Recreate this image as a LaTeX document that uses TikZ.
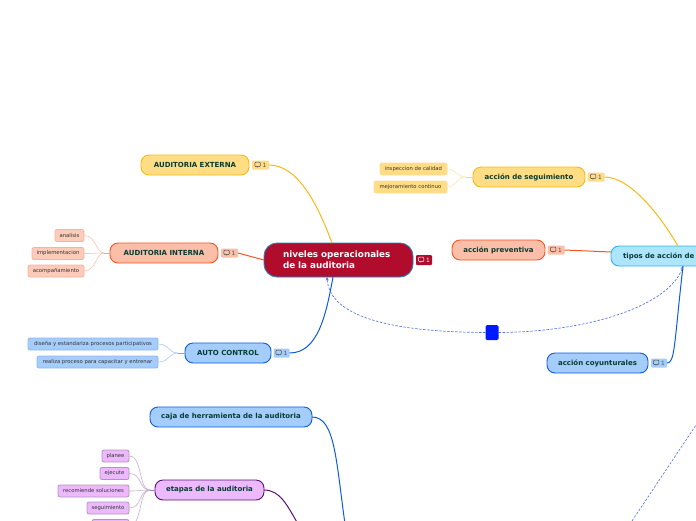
\documentclass[tikz,border=0pt]{standalone}
\usepackage{fontspec}
\setmainfont{DejaVu Sans}
\usepackage{xcolor}
\usetikzlibrary{
  positioning,
  arrows.meta
}
\definecolor{rootred}{RGB}{178,12,45}
\definecolor{rootedge}{RGB}{44,127,192}
\definecolor{yelfill}{RGB}{255,221,133}
\definecolor{yeledge}{RGB}{253,184,19}
\definecolor{orafill}{RGB}{251,190,168}
\definecolor{oraedge}{RGB}{247,84,32}
\definecolor{blufill}{RGB}{165,205,252}
\definecolor{bluedge}{RGB}{12,92,220}
\definecolor{cyafill}{RGB}{173,229,252}
\definecolor{cyaedge}{RGB}{45,180,240}
\definecolor{purfill}{RGB}{236,186,252}
\definecolor{puredge}{RGB}{92,16,112}
\definecolor{topictext}{RGB}{6,60,50}
\definecolor{reldash}{RGB}{80,110,240}
\newcommand{\cmt}[1]{\tikz[baseline=0pt,x=1pt,y=1pt,line width=0.5pt]{\draw[#1] (0,0.6) rectangle (5.6,5);\draw[#1] (1.8,0.6) -- (1.8,-0.6) -- (3.2,0.6);}\hspace{2pt}1}

\begin{document}
\begin{tikzpicture}[
  x=1pt, y=-1pt,
  >={Stealth[length=3.5pt,width=3pt]},
  topic/.style={draw=#1edge, fill=#1fill, rounded corners=8pt, line width=0.9pt,
                minimum height=20pt, inner sep=0pt, outer sep=0pt,
                font=\fontsize{7}{8}\selectfont\bfseries, text=topictext},
  child/.style={draw=#1edge!45, fill=#1fill, rounded corners=2pt, line width=0.8pt,
                minimum height=12pt, inner sep=0pt, outer sep=0pt,
                font=\fontsize{5.3}{6}\selectfont, text=black!80, anchor=east},
  badge/.style={fill=#1, rounded corners=1pt, minimum width=17pt, minimum height=9pt,
                inner sep=0pt, outer sep=0pt,
                font=\fontsize{5.8}{6}\selectfont, text=black!70},
  link/.style={line width=1pt, draw=#1edge},
  twig/.style={line width=0.6pt, draw=#1edge!35},
  stub/.style={line width=1pt, draw=#1edge!55},
  rel/.style={draw=reldash, line width=0.65pt, dash pattern=on 2.4pt off 1.6pt},
]
\useasboundingbox (0,0) rectangle (696,520);

% centre
\node[draw=rootedge, fill=rootred, rounded corners=13pt, line width=0.9pt, text=white,
      minimum width=149pt, minimum height=34pt, inner sep=0pt, outer sep=0pt,
      text width=111pt, align=left,
      font=\fontsize{8.8}{11}\selectfont\bfseries] (main) at (338.5,260) {niveles operacionales\\de la auditoria};
\node[badge=rootred, minimum width=16pt, minimum height=10pt, text=white, right=3pt of main] (mainbadge) {\cmt{white}};

% left branches
\node[topic=yel, minimum width=108pt] (ext) at (195,165) {AUDITORIA EXTERNA};
\node[badge=yelfill, right=3pt of ext] (extbadge) {\cmt{black!70}};
\node[topic=ora, minimum width=108pt] (int) at (164,253) {AUDITORIA INTERNA};
\node[badge=orafill, right=3pt of int] (intbadge) {\cmt{black!70}};
\node[topic=blu, minimum width=86pt] (auto) at (228,353) {AUTO CONTROL};
\node[badge=blufill, minimum width=16pt, right=2.5pt of auto] (autobadge) {\cmt{black!70}};
\node[topic=blu, minimum width=162pt] (caja) at (231,417) {caja de herramienta de la auditoria};
\node[topic=pur, minimum width=109pt] (etapas) at (209.5,490) {etapas de la auditoria};

\node[child=ora, fill=orafill!80, minimum width=29pt] (ana) at (84,235.5) {analisis};
\node[child=ora, fill=orafill!80, minimum width=52pt] (imp) at (84,253.5) {implementacion};
\node[child=ora, fill=orafill!80, minimum width=56pt] (aco) at (84,271) {acompañamiento};
\node[child=blu, minimum width=130pt] (dis) at (158,344) {diseña y estandariza procesos participativos};
\node[child=blu, minimum width=121pt] (rea) at (158,362) {realiza proceso para capacitar y entrenar};
\node[child=pur, minimum width=27pt] (pla) at (129,456) {planee};
\node[child=pur, minimum width=29pt] (eje) at (129,473.5) {ejecute};
\node[child=pur, minimum width=71pt] (rec) at (129,491) {recomiende soluciones};
\node[child=pur, minimum width=42pt] (seg) at (129,508) {seguimiento};
\node[child=pur, minimum width=37pt] (ult) at (129,525.5) {};

% right branches
\node[topic=yel, minimum width=112pt] (acseg) at (529,177) {acción de seguimiento};
\node[badge=yelfill, right=2.5pt of acseg] (acsegbadge) {\cmt{black!70}};
\node[topic=ora, minimum width=93pt] (acpre) at (498.5,250) {acción preventiva};
\node[badge=orafill, right=2.5pt of acpre] (acprebadge) {\cmt{black!70}};
\node[topic=blu, minimum width=101pt] (accoy) at (597.5,363) {acción coyunturales};
\node[badge=blufill, minimum width=16pt, right=3pt of accoy] (accoybadge) {\cmt{black!70}};
\node[topic=cya, minimum width=120pt, text width=96pt, align=left, anchor=west] (tipos) at (611,256) {tipos de acción de};

\node[child=yel, minimum width=67pt] (ins) at (447,169) {inspeccion de calidad};
\node[child=yel, minimum width=73pt] (mej) at (447,187) {mejoramiento continuo};

% relation handle
\node[fill=blue!90!cyan, rounded corners=1.5pt, minimum width=13pt, minimum height=15pt,
      inner sep=0pt, outer sep=0pt] (handle) at (492,332.5) {};
\coordinate (reltop) at (700,419);
\coordinate (relbot) at (630,524);
\coordinate (cajaout) at (345,524);
\coordinate (etapasout) at (298,524);
\coordinate (tipostop) at (678,246);
\coordinate (tiposin) at (683,266);
\coordinate (mainin) at (327,277);

% main connectors
\draw[link=yel] (extbadge.east) .. controls (298,165) and (318,205) .. (main.111);
\draw[link=ora] (intbadge.east) -- (main.180);
\draw[link=blu] (autobadge.east) .. controls (318,353) and (326,315) .. (main.south -| 333,0);
\draw[link=blu] (caja.east) .. controls (335,417) and (336,460) .. (cajaout);
\draw[link=pur] (etapas.east) .. controls (280,490) and (287,505) .. (etapasout);
\draw[link=yel] (acsegbadge.east) .. controls (630,177) and (660,215) .. (tipostop);
\draw[link=ora] (acprebadge.east) -- (tipos.west |- 0,252);
\draw[link=blu] (accoybadge.east) .. controls (675,363) and (674,345) .. (tiposin);

% dashed relation
\draw[rel,->] (handle.west) .. controls (420,332) and (330,325) .. (mainin);
\draw[rel,->] (handle.east) .. controls (590,332) and (670,305) .. (tiposin);
\draw[rel] (reltop) -- (relbot);

% twigs
\foreach \kid in {ana,imp,aco}
  \draw[twig=ora] (\kid.east) .. controls +(12,0) and (96,253) .. (104,253);
\draw[stub=ora] (104,253) -- (int.west);
\foreach \kid in {dis,rea}
  \draw[twig=blu] (\kid.east) .. controls +(12,0) and (168,353) .. (178,353);
\draw[stub=blu] (178,353) -- (auto.west);
\foreach \kid in {ins,mej}
  \draw[twig=yel] (\kid.east) .. controls +(10,0) and (456,177) .. (466,177);
\draw[stub=yel] (466,177) -- (acseg.west);
\foreach \kid in {pla,eje,rec,seg,ult}
  \draw[twig=pur] (\kid.east) .. controls +(14,0) and (138,490) .. (150,490);
\draw[stub=pur] (150,490) -- (etapas.west);

\end{tikzpicture}
\end{document}
